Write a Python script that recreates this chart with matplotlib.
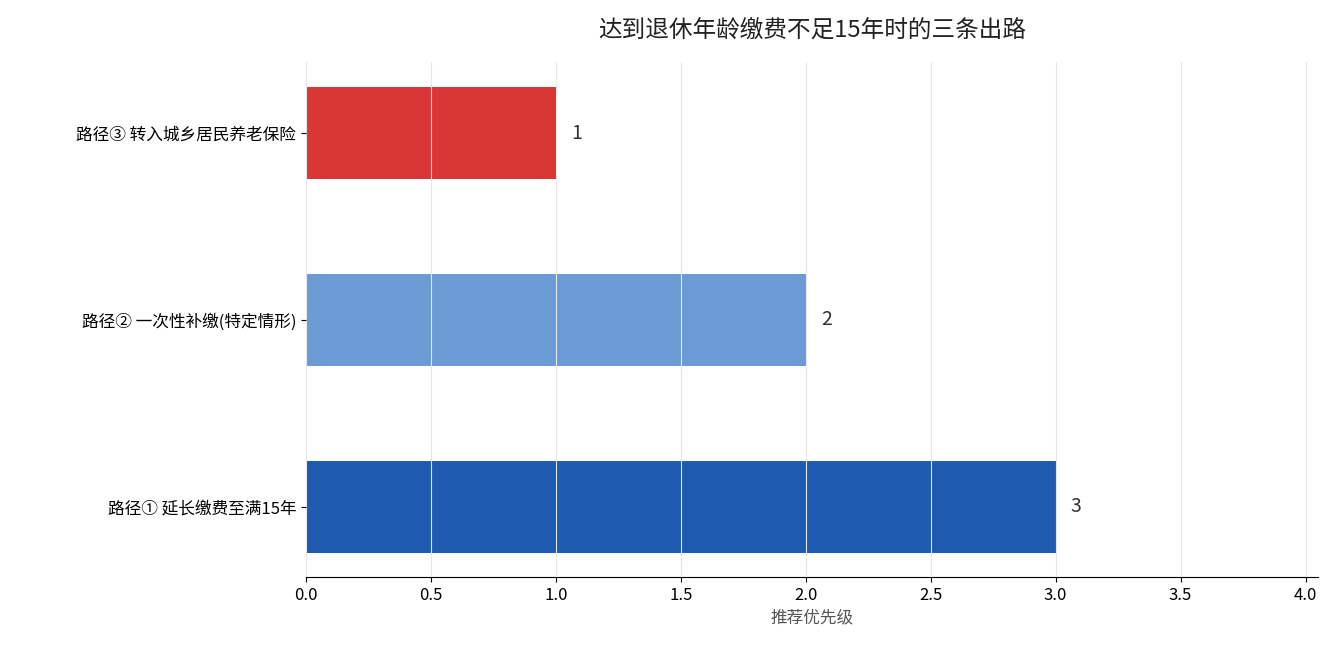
import matplotlib
matplotlib.use("Agg")
import matplotlib.pyplot as plt

plt.rcParams['font.family'] = ['Noto Sans CJK SC', 'DejaVu Sans']

labels = ["路径① 延长缴费至满15年", "路径② 一次性补缴(特定情形)", "路径③ 转入城乡居民养老保险"]
values = [3, 2, 1]
colors = ["#1f5bb0", "#6b9bd4", "#d93636"]

fig = plt.figure(figsize=(13.35, 6.6), dpi=100)
ax = fig.add_axes([306/1335, 1-577/660, (1318-306)/1335, (577-62)/660])
ax.barh(range(len(labels)), values, height=0.49, color=colors, zorder=1)
for i, v in enumerate(values):
    ax.text(v + 0.06, i, str(v), va='center', ha='left', fontsize=14, color='#333333')
ax.set_yticks(range(len(labels)))
ax.set_yticklabels(labels, fontsize=12)
ax.set_xlim(0, 4.05)
ax.set_ylim(-0.375, 2.38)
ax.set_xticks([0, 0.5, 1, 1.5, 2, 2.5, 3, 3.5, 4])
ax.set_xticklabels(["0.0", "0.5", "1.0", "1.5", "2.0", "2.5", "3.0", "3.5", "4.0"], fontsize=12)
ax.xaxis.grid(True, color='#e6e6e6', linewidth=0.8, zorder=2)
ax.set_axisbelow(False)
for s in ['top', 'right', 'left']:
    ax.spines[s].set_visible(False)
ax.set_xlabel("推荐优先级", fontsize=12, color='#555555')
ax.set_title("达到退休年龄缴费不足15年时的三条出路", fontsize=17, pad=18, color='#222222')
fig.savefig("out.png", dpi=100)
